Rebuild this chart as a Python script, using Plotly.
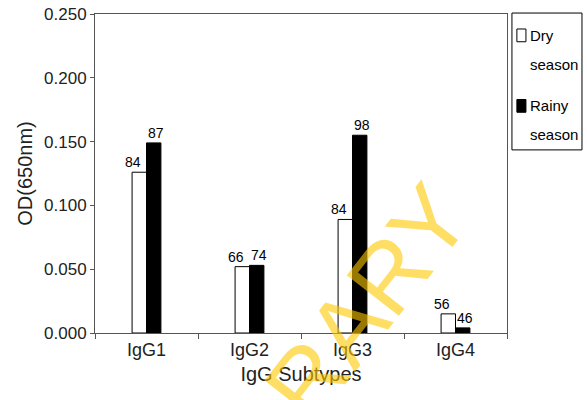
import plotly.graph_objs as go

categories = ['IgG1', 'IgG2', 'IgG3', 'IgG4']
dry_od = [0.126, 0.052, 0.089, 0.015]
rainy_od = [0.149, 0.053, 0.155, 0.004]
dry_pct = ['84', '66', '84', '56']
rainy_pct = ['87', '74', '98', '46']
y_ticks = [0.0, 0.05, 0.10, 0.15, 0.20, 0.25]
series_names = ['Dry', 'Rainy']
series_colors = ['white', 'black']

font = 'Liberation Sans, Arial, sans-serif'

fig = go.Figure()
fig.add_trace(go.Bar(x=categories, y=dry_od, name='Dry season',
                     width=0.14, offset=-0.14,
                     marker=dict(color='white', line=dict(color='black', width=1))))
fig.add_trace(go.Bar(x=categories, y=rainy_od, name='Rainy season',
                     width=0.14, offset=0.0,
                     marker=dict(color='black', line=dict(color='black', width=1))))

# value labels above bars
for c, v, t in zip(categories, dry_od, dry_pct):
    fig.add_annotation(x=c, y=v, text=t, showarrow=False, xshift=-14, yshift=0,
                       yanchor='bottom', font=dict(size=14, color='black'))
for c, v, t in zip(categories, rainy_od, rainy_pct):
    fig.add_annotation(x=c, y=v, text=t, showarrow=False, xshift=9, yshift=0,
                       yanchor='bottom', font=dict(size=14, color='black'))

# legend box drawn by hand (text-style legend like the original)
fig.add_shape(type='rect', xref='paper', yref='paper', x0=1.012, x1=1.182, y0=0.574, y1=1.003,
              line=dict(color='black', width=1), fillcolor='white')
for i, (nm, col) in enumerate(zip(series_names, series_colors)):
    yname = 0.933 - i * 0.221
    fig.add_shape(type='rect', xref='paper', yref='paper', x0=1.024, x1=1.046,
                  y0=yname - 0.02, y1=yname + 0.02, line=dict(color='black', width=1),
                  fillcolor=col)
    fig.add_annotation(xref='paper', yref='paper', x=1.05, y=yname, text=nm,
                       showarrow=False, xanchor='left', yanchor='middle',
                       font=dict(size=15, color='black'))
    fig.add_annotation(xref='paper', yref='paper', x=1.05, y=yname - 0.09, text='season',
                       showarrow=False, xanchor='left', yanchor='middle',
                       font=dict(size=15, color='black'))

# watermark
fig.add_annotation(xref='paper', yref='paper', x=0.551, y=-0.082, text='LIBRARY',
                   showarrow=False, textangle=-52, xanchor='center', yanchor='middle',
                   font=dict(size=96, color='rgba(255,200,0,0.6)', family=font))

fig.update_layout(
    width=587, height=400,
    margin=dict(l=95, r=80, t=14, b=67, autoexpand=False),
    plot_bgcolor='white', paper_bgcolor='white',
    font=dict(family=font, color='#222', size=15),
    showlegend=False,
    barmode='overlay',
)
fig.update_xaxes(title_text='IgG Subtypes', title_font=dict(size=20), title_standoff=8,
                 showline=True, linecolor='#555', mirror=True,
                 ticks='outside', tickson='boundaries', ticklen=5, tickcolor='#555',
                 tickfont=dict(size=18))
fig.update_yaxes(title_text='OD(650nm)', title_font=dict(size=20), title_standoff=6,
                 range=[0, 0.25], tickvals=y_ticks, tickformat='.3f',
                 showline=True, linecolor='#555', mirror=True, showgrid=False,
                 zeroline=False, ticks='outside', ticklen=4, tickcolor='#555',
                 tickfont=dict(size=17))

# drop the default 8px page margin so the figure fills the window
fig.write_html("out.html", config={'displayModeBar': False},
               post_script="document.body.style.margin='0';")
